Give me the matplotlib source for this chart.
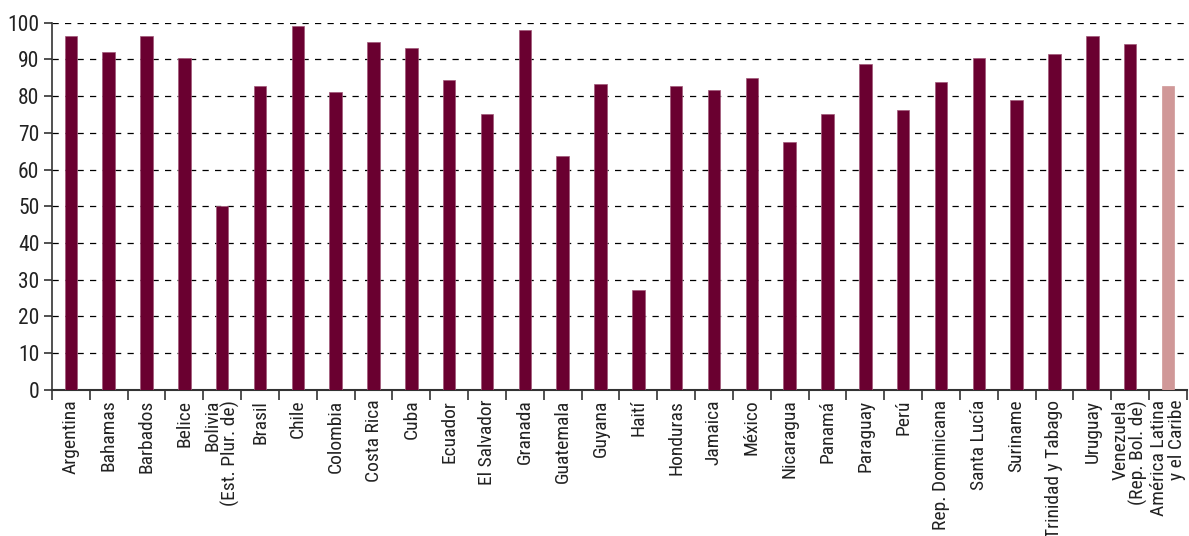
import matplotlib
matplotlib.use("Agg")
import matplotlib.pyplot as plt
from matplotlib import font_manager
import numpy as np

categories = ["Argentina", "Bahamas", "Barbados", "Belice", "Bolivia\n(Est. Plur. de)", "Brasil",
              "Chile", "Colombia", "Costa Rica", "Cuba", "Ecuador", "El Salvador", "Granada",
              "Guatemala", "Guyana", "Haití", "Honduras", "Jamaica", "México", "Nicaragua",
              "Panamá", "Paraguay", "Perú", "Rep. Dominicana", "Santa Lucía", "Suriname",
              "Trinidad y Tabago", "Uruguay", "Venezuela\n(Rep. Bol. de)", "América Latina\ny el Caribe"]
values = [96.4, 92.0, 96.4, 90.4, 50.1, 82.8, 99.1, 81.1, 94.7, 93.1, 84.4, 75.1, 98.0,
          63.7, 83.3, 27.3, 82.8, 81.7, 84.9, 67.5, 75.1, 88.7, 76.2, 83.9, 90.4, 79.0,
          91.5, 96.4, 94.2, 82.8]
yticks = list(range(0, 101, 10))

avail = {f.name for f in font_manager.fontManager.ttflist}
fam = [f for f in ["Roboto Condensed", "Liberation Sans Narrow", "Liberation Sans", "DejaVu Sans"] if f in avail]
plt.rcParams['font.family'] = fam

dark = "#6A0030"
light = "#D09898"
colors = [dark] * (len(values) - 1) + [light]

fig = plt.figure(figsize=(11.89, 5.36), dpi=100)
ax = fig.add_axes([0.0437, 0.2724, 0.9545, 0.6856])
x = np.arange(len(categories))
ax.bar(x, values, width=0.33, color=colors, edgecolor=[c if c == light else "#A05878" for c in colors],
       linewidth=0.5, zorder=3)

ax.set_xlim(-0.5, len(categories) - 0.5)
ax.set_ylim(0, 100)
ax.set_yticks(yticks)
ax.yaxis.grid(True, color="black", linestyle=(0, (5, 5)), linewidth=0.9, zorder=1)
ax.set_axisbelow(True)

ax.set_xticks(x)
ax.set_xticklabels(categories, rotation=90, ha="center", va="top", multialignment="right",
                   fontsize=14, color="#222222", linespacing=0.95)
ax.set_xticks(np.arange(-0.5, len(categories), 1.0), minor=True)
ax.tick_params(axis="x", which="major", length=0, pad=7)
ax.tick_params(axis="x", which="minor", length=7, width=1.2, color="#333333", direction="out")
ax.tick_params(axis="y", length=6, width=1.2, color="#333333", labelsize=15.5, labelcolor="#222222", pad=3)

for s in ["top", "right"]:
    ax.spines[s].set_visible(False)
ax.spines["left"].set_linewidth(1.2)
ax.spines["left"].set_color("#333333")
ax.spines["bottom"].set_linewidth(1.5)
ax.spines["bottom"].set_color("#333333")

fig.savefig("out.png", dpi=100)
